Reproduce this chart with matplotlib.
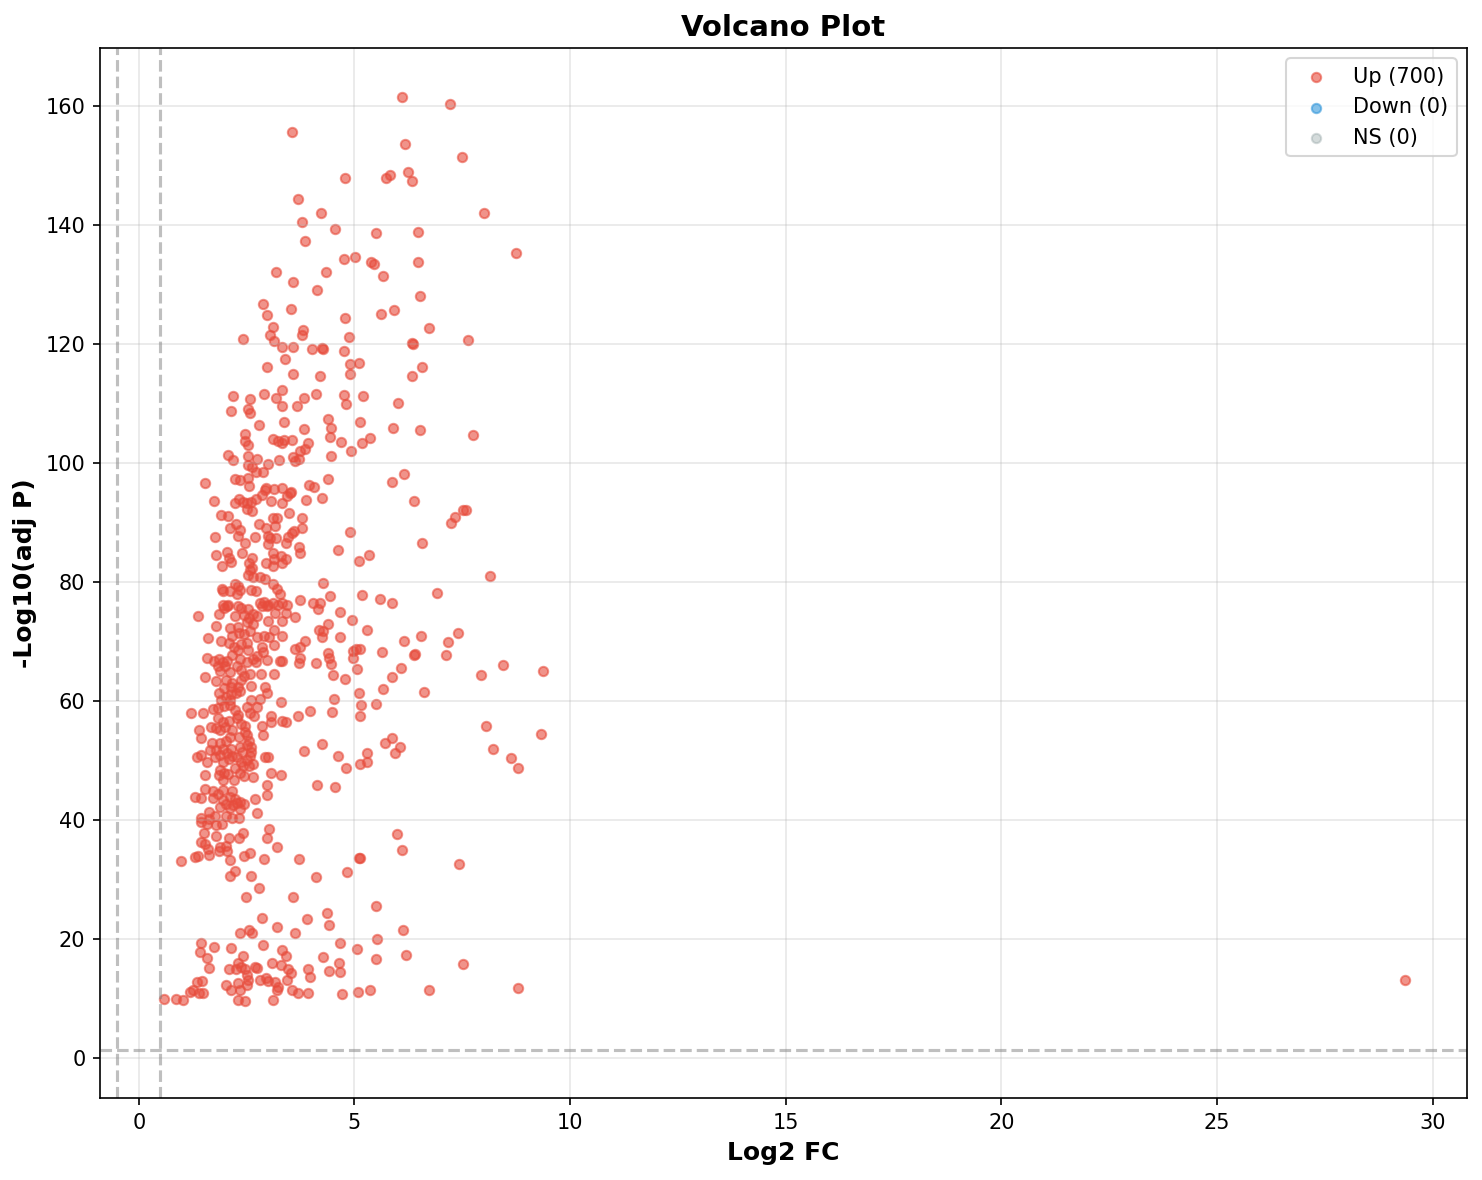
import matplotlib
matplotlib.use("Agg")
import matplotlib.pyplot as plt

# Significant up-regulated genes: (log2 fold change, -log10 adjusted p)
log2fc = [
    6.11, 7.22, 3.56, 6.18, 7.50, 4.79, 5.72, 5.83, 6.25, 6.34,
    3.70, 4.23, 8.01, 3.79, 4.56, 5.51, 6.48, 3.86, 8.75, 4.76,
    5.02, 5.39, 5.46, 6.48, 3.19, 4.35, 5.67, 3.58, 4.14, 6.53,
    2.88, 3.53, 2.98, 4.79, 5.62, 5.92, 6.74, 3.12, 3.81, 3.78,
    3.05, 3.14, 2.42, 4.88, 6.34, 6.36, 7.64, 3.31, 3.58, 4.02,
    4.25, 4.27, 4.76, 3.39, 2.98, 4.90, 5.11, 6.57, 3.58, 4.21,
    4.90, 6.34, 2.19, 2.58, 2.91, 3.19, 3.31, 3.83, 4.11, 4.76,
    5.20, 6.02,
    # right-hand middle
    6.53, 7.76, 6.16, 6.39, 7.52, 7.58, 7.34, 7.25, 6.57, 8.15,
    6.91, 6.16, 6.55, 7.41, 7.18, 6.39, 6.41, 7.12, 6.08, 7.94,
    8.45, 9.38, 6.62,
    8.06, 9.33, 6.06, 5.94, 8.21, 8.64, 8.80, 5.99, 6.11, 7.43,
    6.13, 6.20, 7.52, 6.74, 8.80,
    # band 100-110 and below (left cluster)
    3.33, 3.67, 4.81, 2.14, 2.53, 2.58, 2.78, 3.37, 4.39, 4.45,
    5.13, 5.90, 3.83, 2.46, 2.47, 2.54, 3.12, 3.23, 3.33, 3.36,
    3.56, 3.92, 4.43, 4.69, 5.18, 5.36, 3.86, 3.74, 4.92, 2.07,
    2.19, 2.53, 2.73, 3.00, 3.26, 3.58, 3.63, 3.71, 4.45, 2.52,
    2.63, 2.71, 2.88, 1.54, 2.23, 2.34, 2.54, 2.55, 2.95, 2.93,
    3.13, 3.33, 3.50, 3.95, 4.06, 4.39, 5.88, 1.75, 2.23, 2.32,
    2.42, 2.51, 2.61, 2.71, 2.85, 3.06, 3.33, 3.43, 3.52, 3.87,
    4.25, 2.51, 2.62, 1.90, 2.06, 2.79, 2.95, 3.12, 3.20, 3.16,
    3.49, 3.78, 3.79, 2.12, 2.25, 2.34, 1.76, 2.30, 2.70, 3.00,
    3.04, 3.18, 3.46, 3.54, 3.60, 4.90, 2.46, 3.00, 3.42, 3.72,
    3.73, 4.61, 1.80, 2.05, 2.08, 2.13, 2.40, 2.62, 2.55, 3.12,
    3.13, 2.96, 3.12, 3.29, 3.42, 3.31, 1.93, 2.58, 2.63, 5.33,
    5.11, 2.54, 2.65, 2.81, 2.92, 3.12, 4.27, 1.92, 1.94, 2.11,
    2.24, 2.30, 2.34, 2.27, 2.60, 2.71, 3.21, 3.27, 4.44, 5.17,
    5.59, 5.88, 1.94, 2.06, 2.80, 2.90, 3.00, 3.12, 3.23, 3.33,
    3.43, 3.74, 4.04, 4.21,
    # band 60-76
    1.38, 1.86, 1.97, 2.05, 2.29, 2.36, 2.52, 2.24, 2.44, 2.56,
    2.65, 2.74, 2.64, 2.50, 2.86, 2.98, 3.00, 3.16, 3.31, 3.42,
    3.63, 4.16, 4.66, 4.95, 1.80, 2.11, 2.30, 2.33, 2.16, 2.44,
    2.58, 2.74, 2.91, 3.01, 3.13, 3.31, 4.18, 4.26, 4.25, 4.39,
    4.67, 5.30, 1.61, 1.90, 2.09, 2.21, 2.37, 2.51, 2.30, 2.54,
    2.86, 3.14, 3.63, 3.73, 3.86, 2.88, 2.75, 1.57, 1.75, 1.86,
    1.94, 2.05, 2.17, 2.34, 2.50, 2.64, 2.71, 2.98, 3.27, 3.33,
    3.73, 3.71, 4.11, 4.38, 4.42, 4.45, 4.96, 5.03, 5.14, 4.97,
    5.64, 1.84, 1.89, 1.99, 2.11, 2.27, 2.36, 2.44, 2.58, 2.84,
    3.13, 4.51, 4.79, 5.05, 5.86, 1.54, 1.80, 2.02, 2.16, 1.97,
    2.13, 2.30, 2.38, 2.60, 2.93, 2.98, 1.86, 2.02, 2.13, 2.25,
    2.34, 5.11, 5.67, 4.53, 1.90, 2.11, 2.61, 2.81, 3.30, 5.51,
    5.16,
    # band 40-60
    1.21, 1.49, 1.72, 1.84, 1.97, 2.11, 2.24, 2.30, 2.51, 2.58,
    2.74, 2.67, 3.06, 3.06, 3.70, 3.97, 4.48, 5.13, 3.33, 3.41,
    1.84, 1.94, 2.09, 2.27, 2.36, 1.67, 1.40, 1.79, 1.88, 1.99,
    2.15, 2.47, 2.46, 1.45, 2.11, 2.33, 2.50, 2.85, 2.88, 2.56,
    1.70, 1.88, 2.03, 1.65, 1.79, 1.94, 2.13, 2.34, 2.50, 2.61,
    2.59, 2.40, 4.25, 5.71, 5.88, 3.83, 5.30, 1.34, 1.43, 1.76,
    1.88, 2.05, 2.15, 2.28, 2.58, 2.92, 3.00, 4.62, 5.29, 5.13,
    1.59, 1.95, 2.10, 2.38, 2.51, 2.65, 4.80, 1.89, 1.97, 1.86,
    2.23, 2.42, 2.56, 1.54, 2.07, 2.34, 2.44, 2.64, 3.06, 3.30,
    1.94, 2.21, 4.14, 4.56, 2.98, 1.72, 1.54, 1.95, 2.15, 1.31,
    1.43, 1.72, 1.84, 1.94, 2.11, 2.23, 2.34, 2.44, 2.98, 2.69,
    2.02, 2.19, 2.28, 1.88, 1.63, 2.11, 2.34, 2.74, 1.45, 1.76,
    2.03, 2.33,
    # band below 40
    1.45, 1.63, 1.59, 1.80, 1.92, 2.15, 1.52, 1.80, 2.10, 2.33,
    2.42, 3.02, 2.98, 1.45, 1.53, 1.61, 1.88, 2.03, 1.86, 2.05,
    1.63, 1.30, 1.38, 0.97, 2.11, 2.44, 2.58, 2.91, 3.20, 3.72,
    4.83, 5.11, 5.13, 2.24, 2.11, 2.61, 4.11, 2.78, 2.48, 3.57,
    5.51, 2.86, 3.90, 4.37, 4.42, 3.20, 2.34, 2.56, 2.62, 3.63,
    1.44, 1.42, 1.57, 1.75, 2.14, 2.42, 2.88, 3.31, 3.42, 4.67,
    5.07, 5.52, 5.51, 4.28, 1.63, 2.09, 2.25, 2.30, 2.38, 2.46,
    2.50, 2.69, 2.73, 3.09, 3.29, 3.46, 3.53, 3.93, 3.97, 4.42,
    4.65, 4.67, 1.34, 1.47, 2.03, 2.13, 2.30, 2.34, 2.50, 2.54,
    2.81, 2.95, 3.00, 3.16, 3.21, 3.23, 3.43, 3.54, 3.70, 3.93,
    0.59, 0.87, 1.03, 1.18, 1.25, 1.39, 1.49, 2.30, 2.46, 3.12,
    4.72, 5.09, 5.36,
    # far outlier
    29.37,
]

neg_log10_p = [
    161.5, 160.3, 155.6, 153.6, 151.4, 147.9, 147.9, 148.3, 148.9, 147.3,
    144.3, 142.0, 142.0, 140.5, 139.3, 138.6, 138.8, 137.3, 135.2, 134.2,
    134.6, 133.7, 133.4, 133.7, 132.1, 132.1, 131.4, 130.4, 129.0, 128.0,
    126.7, 125.8, 124.8, 124.3, 125.0, 125.7, 122.6, 122.8, 122.3, 121.5,
    121.5, 120.5, 120.8, 121.1, 120.1, 120.0, 120.6, 119.4, 119.4, 119.1,
    119.3, 119.2, 118.8, 117.4, 116.1, 116.6, 116.8, 116.1, 114.9, 114.6,
    114.9, 114.6, 111.3, 110.7, 111.6, 110.9, 112.2, 110.9, 111.6, 111.4,
    111.3, 110.1,
    105.5, 104.7, 98.2, 93.6, 92.1, 92.1, 90.9, 89.9, 86.5, 81.0,
    78.2, 70.1, 70.9, 71.5, 69.9, 67.8, 67.9, 67.7, 65.5, 64.3,
    66.0, 65.0, 61.5,
    55.8, 54.4, 52.2, 51.2, 51.9, 50.5, 48.7, 37.6, 34.9, 32.6,
    21.5, 17.4, 15.8, 11.4, 11.7,
    109.6, 109.6, 109.9, 108.7, 109.1, 108.3, 106.4, 106.8, 107.4, 105.8,
    106.9, 105.8, 105.7, 104.8, 103.6, 103.0, 104.0, 103.6, 103.3, 103.9,
    103.8, 103.3, 104.4, 103.5, 103.3, 104.2, 102.3, 102.0, 102.0, 101.4,
    100.5, 101.2, 100.7, 99.8, 100.5, 101.0, 100.3, 100.7, 101.2, 99.6,
    99.3, 98.5, 98.5, 96.6, 97.3, 97.1, 97.4, 96.2, 95.7, 95.5,
    95.6, 95.7, 95.0, 96.3, 95.9, 97.3, 96.8, 93.6, 93.2, 94.0,
    93.5, 93.2, 93.5, 94.0, 94.6, 93.6, 93.2, 94.5, 95.1, 93.8,
    94.1, 92.2, 92.0, 91.3, 91.1, 89.8, 89.1, 90.7, 90.8, 89.4,
    91.5, 90.7, 89.0, 89.1, 89.8, 88.7, 87.6, 87.8, 87.6, 87.8,
    87.3, 87.4, 87.6, 88.2, 88.5, 88.4, 86.5, 86.4, 86.5, 85.9,
    84.9, 85.3, 84.6, 85.0, 84.1, 83.3, 84.8, 84.0, 83.1, 84.8,
    83.8, 83.1, 82.7, 84.3, 83.8, 83.1, 82.6, 82.0, 82.4, 84.5,
    83.5, 81.2, 80.8, 80.8, 80.5, 79.7, 79.8, 78.8, 78.4, 78.4,
    79.7, 79.3, 78.7, 78.0, 78.7, 78.4, 78.8, 78.0, 77.7, 77.8,
    77.1, 76.4, 76.1, 76.1, 76.4, 76.6, 76.1, 76.5, 76.1, 76.5,
    76.1, 77.0, 76.4, 76.4,
    74.3, 74.6, 75.7, 75.9, 75.9, 75.7, 75.4, 74.3, 74.5, 73.9,
    74.6, 74.2, 72.9, 73.3, 75.9, 75.9, 73.5, 74.7, 73.5, 74.7,
    74.1, 75.4, 74.9, 73.6, 72.6, 72.2, 72.5, 71.4, 70.9, 71.3,
    71.7, 70.8, 71.0, 70.7, 71.9, 71.0, 71.9, 71.8, 70.7, 72.9,
    70.8, 72.0, 70.6, 70.0, 69.7, 69.1, 69.5, 69.8, 68.5, 68.6,
    69.1, 69.4, 68.8, 69.0, 70.0, 68.3, 67.5, 67.2, 66.8, 67.0,
    66.6, 66.8, 67.7, 67.0, 66.5, 67.0, 66.5, 66.9, 66.7, 66.7,
    67.2, 66.3, 66.3, 68.0, 67.2, 66.2, 68.4, 68.7, 68.8, 67.3,
    68.2, 65.8, 65.1, 65.8, 64.9, 65.9, 65.2, 64.2, 64.5, 64.5,
    64.5, 64.4, 63.7, 65.3, 64.1, 64.0, 63.3, 63.5, 63.0, 62.1,
    62.3, 62.4, 63.5, 62.6, 62.3, 61.3, 61.3, 60.7, 61.1, 61.3,
    61.6, 61.3, 62.0, 60.4, 60.2, 60.1, 60.2, 60.4, 59.9, 59.5,
    59.4,
    57.9, 57.9, 58.7, 58.8, 59.2, 59.3, 58.5, 57.6, 59.0, 57.9,
    59.0, 57.5, 57.5, 56.5, 57.5, 58.3, 58.2, 57.4, 56.7, 56.4,
    57.1, 56.5, 56.7, 57.1, 56.1, 55.6, 55.1, 55.4, 55.1, 55.6,
    55.1, 55.8, 54.8, 53.7, 53.9, 54.0, 54.3, 55.8, 54.3, 53.2,
    52.9, 52.9, 53.2, 51.8, 51.8, 52.0, 52.0, 52.3, 52.6, 52.3,
    51.5, 51.5, 52.7, 53.0, 53.8, 51.6, 51.3, 50.6, 50.9, 50.6,
    50.9, 51.2, 50.8, 50.6, 50.8, 50.6, 50.6, 50.8, 49.7, 49.4,
    49.7, 49.8, 50.2, 49.8, 50.1, 49.4, 48.7, 48.4, 47.9, 47.6,
    48.7, 49.0, 49.1, 47.6, 47.8, 47.9, 47.4, 47.3, 47.9, 47.5,
    46.7, 46.7, 45.9, 45.5, 45.9, 44.8, 45.2, 45.0, 44.8, 43.9,
    43.7, 43.7, 44.4, 43.4, 43.9, 43.5, 43.1, 42.7, 44.2, 43.6,
    42.7, 42.5, 42.8, 42.2, 41.4, 42.0, 41.8, 41.1, 40.3, 40.6,
    40.6, 40.3,
    39.7, 40.1, 39.4, 39.2, 39.3, 40.4, 37.9, 37.3, 37.0, 36.9,
    37.8, 38.5, 36.9, 36.3, 36.0, 35.1, 35.5, 35.6, 34.8, 34.8,
    34.1, 33.8, 33.9, 33.1, 33.3, 33.9, 34.4, 33.4, 35.5, 33.4,
    31.3, 33.6, 33.7, 31.5, 30.6, 30.6, 30.4, 28.5, 27.0, 27.0,
    25.5, 23.6, 23.3, 24.3, 22.3, 22.0, 21.1, 21.5, 21.0, 21.1,
    19.4, 17.9, 16.9, 18.7, 18.5, 17.1, 19.0, 18.2, 17.1, 19.3,
    18.3, 20.0, 16.6, 17.0, 15.2, 14.9, 15.0, 15.9, 15.3, 14.9,
    13.9, 15.3, 15.2, 16.0, 15.6, 14.9, 14.3, 15.0, 13.6, 14.7,
    16.0, 14.4, 12.8, 13.0, 12.2, 11.4, 12.7, 11.4, 12.3, 13.1,
    13.1, 13.4, 12.9, 12.8, 11.4, 12.0, 13.1, 11.4, 10.9, 10.9,
    9.9, 10.0, 9.7, 11.1, 11.4, 10.9, 11.0, 9.7, 9.6, 9.7,
    10.8, 11.1, 11.4,
    13.1,
]

n_up, n_down, n_ns = 700, 0, 0
fc_threshold = 0.5
p_threshold = 1.3

fig = plt.figure(figsize=(1482 / 150, 1180 / 150), dpi=150)
ax = fig.add_axes([0.0675, 0.0695, 0.9224, 0.8898])

ax.scatter(log2fc, neg_log10_p, c="#e74c3c", alpha=0.6, s=20, label=f"Up ({n_up})")
ax.scatter([], [], c="#3498db", alpha=0.6, s=20, label=f"Down ({n_down})")
ax.scatter([], [], c="#95a5a6", alpha=0.4, s=20, label=f"NS ({n_ns})")

ax.axhline(p_threshold, color="gray", linestyle="--", alpha=0.5)
ax.axvline(fc_threshold, color="gray", linestyle="--", alpha=0.5)
ax.axvline(-fc_threshold, color="gray", linestyle="--", alpha=0.5)

ax.set_xlim(-0.9, 30.8)
ax.set_ylim(-6.7, 169.7)
ax.grid(True, alpha=0.3)
ax.set_xlabel("Log2 FC", fontsize=12, fontweight="bold")
ax.set_ylabel("-Log10(adj P)", fontsize=12, fontweight="bold")
ax.set_title("Volcano Plot", fontsize=14, fontweight="bold")
ax.legend(loc="upper right")

fig.savefig("out.png", dpi=150)
